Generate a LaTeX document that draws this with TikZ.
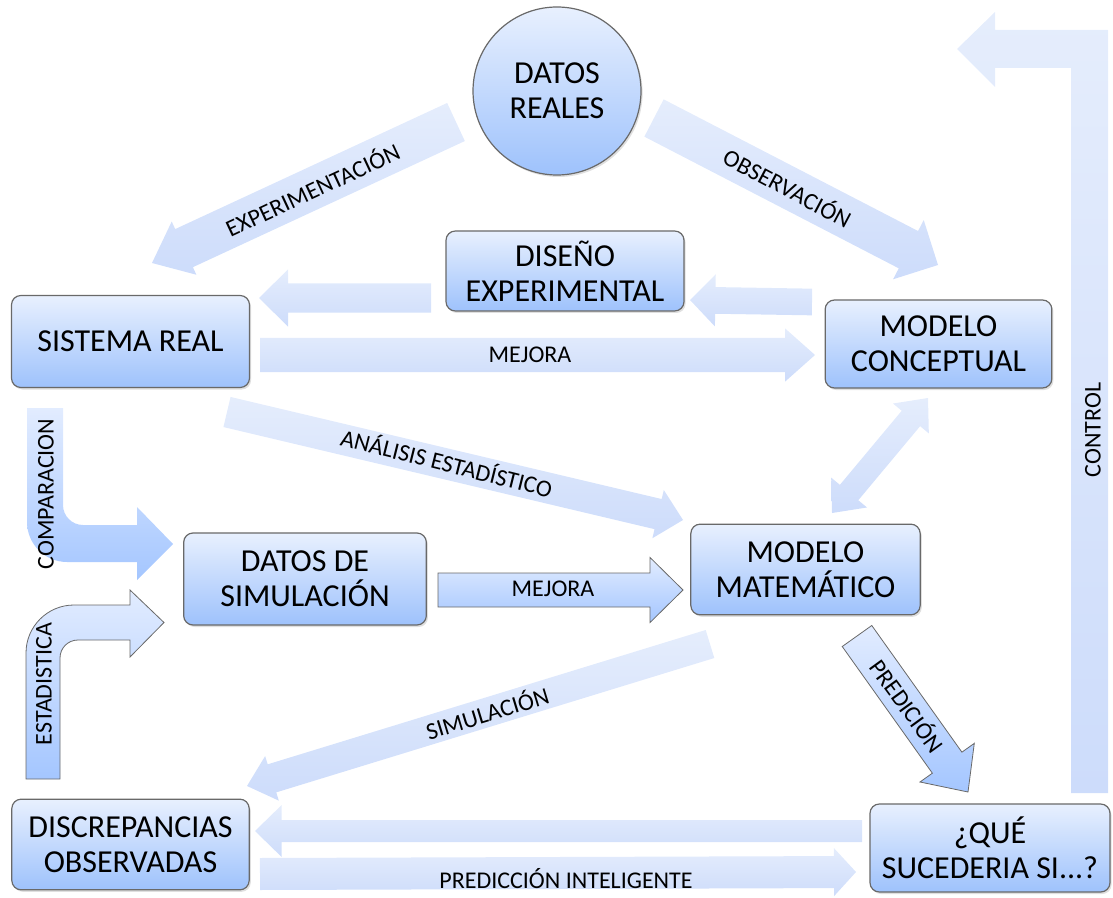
\documentclass[tikz,border=0pt]{standalone}
\usepackage{fontspec}
\setmainfont{Carlito}
\usetikzlibrary{calc,shadows}

\definecolor{boxtop}{RGB}{232,240,254}
\definecolor{boxbot}{RGB}{158,194,252}
\definecolor{boxline}{RGB}{105,105,105}
\definecolor{softtop}{RGB}{229,237,252}
\definecolor{softbot}{RGB}{205,220,251}
\definecolor{bluetop}{RGB}{226,236,255}
\definecolor{bluebot}{RGB}{164,198,255}

\tikzset{every picture/.style={line width=0.75pt}}
\tikzset{
	box/.style={draw=boxline, line width=0.9pt, rounded corners=7pt, top color=boxtop, bottom color=boxbot, align=center, inner sep=0pt, font=\fontsize{24}{26}\selectfont, drop shadow={opacity=0.25, shadow xshift=1.2pt, shadow yshift=-1.5pt}},
	softarrow/.style={top color=softtop, bottom color=softbot},
	bluearrow/.style={top color=bluetop, bottom color=bluebot},
	outlined/.style={draw=boxline, line width=0.6pt},
	lbl/.style={inner sep=0pt, font=\fontsize{18}{20}\selectfont}
}

% block arrow: [style]{tail}{tip}{half shaft}{half head}{head length}
\newcommand{\blockarrow}[6][softarrow]{%
	\coordinate (bahead) at ($(#3)!#6!(#2)$);
	\path[#1] ($(#2)!#4!90:(#3)$) -- ($(bahead)!#4!90:(#3)$) -- ($(bahead)!#5!90:(#3)$) -- (#3) -- ($(bahead)!#5!-90:(#3)$) -- ($(bahead)!#4!-90:(#3)$) -- ($(#2)!#4!-90:(#3)$) -- cycle;
}
% double block arrow: [style]{end a}{end b}{half shaft}{half head}{head length}
\newcommand{\twinarrow}[6][softarrow]{%
	\coordinate (taheada) at ($(#2)!#6!(#3)$);
	\coordinate (taheadb) at ($(#3)!#6!(#2)$);
	\path[#1] (#2) -- ($(taheada)!#5!90:(#3)$) -- ($(taheada)!#4!90:(#3)$) -- ($(taheadb)!#4!90:(#3)$) -- ($(taheadb)!#5!90:(#3)$) -- (#3) -- ($(taheadb)!#5!-90:(#3)$) -- ($(taheadb)!#4!-90:(#3)$) -- ($(taheada)!#4!-90:(#3)$) -- ($(taheada)!#5!-90:(#3)$) -- cycle;
}

\begin{document}
\begin{tikzpicture}[x=0.75pt,y=0.75pt,yscale=-1,xscale=1]
	\useasboundingbox (0,0) rectangle (1113,898);

	%Arrow ends
	\coordinate (expT) at (456,122);   \coordinate (expH) at (152,263);
	\coordinate (obsT) at (654,118);   \coordinate (obsH) at (938,265);
	\coordinate (disT) at (431,298);   \coordinate (disH) at (259,298);
	\coordinate (conT) at (812,302);   \coordinate (conH) at (690,300);
	\coordinate (mejT) at (260,355);   \coordinate (mejH) at (815,355);
	\coordinate (anaT) at (227,412);   \coordinate (anaH) at (683,520);
	\coordinate (dblA) at (928,398);   \coordinate (dblB) at (832,513);
	\coordinate (simdT) at (438,590);  \coordinate (simdH) at (683,590);
	\coordinate (simT) at (710,644);   \coordinate (simH) at (247,786);
	\coordinate (preT) at (857,636);   \coordinate (preH) at (968,792);
	\coordinate (queT) at (862,831);   \coordinate (queH) at (255,831);
	\coordinate (intT) at (260,874);   \coordinate (intH) at (856,872);

	%Shape: Block Arrows
	\blockarrow{expT}{expH}{15.75pt}{22pt}{26.5pt}
	\blockarrow{obsT}{obsH}{15.75pt}{25pt}{25pt}
	\blockarrow{disT}{disH}{10.9pt}{21.4pt}{21.75pt}
	\blockarrow{conT}{conH}{10pt}{19.5pt}{19pt}
	\blockarrow{mejT}{mejH}{12.75pt}{20pt}{22.5pt}
	\blockarrow{anaT}{anaH}{11.6pt}{18.6pt}{19.2pt}
	\twinarrow{dblA}{dblB}{9pt}{17.5pt}{20pt}
	\blockarrow[bluearrow,outlined]{simdT}{simdH}{12.75pt}{24.4pt}{24.75pt}
	\blockarrow{simT}{simH}{11pt}{17.5pt}{19.6pt}
	\blockarrow[bluearrow,outlined]{preT}{preH}{13.6pt}{25pt}{27pt}
	\blockarrow{queT}{queH}{8.25pt}{19.5pt}{20pt}
	\blockarrow{intT}{intH}{12pt}{18pt}{16.5pt}

	%Shape: Bent Arrow [control]
	\path[softarrow] (1071,793) -- (1108,793) -- (1108,30) -- (995,30) -- (995,12) -- (957,49) -- (995,87) -- (995,68) -- (1071,68) -- cycle;
	%Shape: Bent Arrow [comparacion]
	\path[bluearrow] (27,408) -- (27,522) .. controls (27,544) and (45,562) .. (67,562) -- (137,562) -- (137,580) -- (173,544) -- (137,507) -- (137,525) -- (83,525) .. controls (72,525) and (63,516) .. (63,505) -- (63,408) -- cycle;
	%Shape: Bent Arrow [estadistica]
	\path[bluearrow,outlined] (26,779) -- (26,653) .. controls (26,626.5) and (47.5,605) .. (74,605) -- (130,605) -- (130,590) -- (164,622.5) -- (130,657) -- (130,640) -- (78,640) .. controls (68,640) and (60,648) .. (60,658) -- (60,779) -- cycle;

	%Shape: Circle
	\node[box, circle, minimum size=126pt] (reales) at (557,91) {DATOS\\REALES};
	%Shape: Rounded Rectangles
	\node[box, minimum width=178.5pt, minimum height=60pt] (diseno) at (565,271) {DISEÑO\\EXPERIMENTAL};
	\node[box, minimum width=178.5pt, minimum height=69pt] (sistema) at (130.5,341.5) {SISTEMA REAL};
	\node[box, minimum width=170pt, minimum height=66pt] (conceptual) at (938.5,344) {MODELO\\CONCEPTUAL};
	\node[box, minimum width=182pt, minimum height=69pt] (datossim) at (305,579) {DATOS DE\\SIMULACIÓN};
	\node[box, minimum width=172pt, minimum height=68pt] (matematico) at (805.5,569.5) {MODELO\\MATEMÁTICO};
	\node[box, minimum width=178pt, minimum height=68pt] (discrep) at (130.5,844.5) {DISCREPANCIAS\\OBSERVADAS};
	\node[box, minimum width=180pt, minimum height=66pt] (quesi) at (990,848) {¿QUÉ\\SUCEDERIA SI...?};

	% Text Node
	\node[lbl, rotate=25] (lexp) at (312,189) {EXPERIMENTACIÓN};
	% Text Node
	\node[lbl, rotate=-28] (lobs) at (788,187) {OBSERVACIÓN};
	% Text Node
	\node[lbl] (lmejora) at (530,355) {MEJORA};
	% Text Node
	\node[lbl, rotate=-14] (lanalisis) at (447,462) {ANÁLISIS ESTADÍSTICO};
	% Text Node
	\node[lbl] (lmejorasim) at (553,589) {MEJORA};
	% Text Node
	\node[lbl, rotate=17] (lsim) at (487,712) {SIMULACIÓN};
	% Text Node
	\node[lbl, rotate=-54] (lpred) at (908,705) {PREDICIÓN};
	% Text Node
	\node[lbl] (lintel) at (566,879) {PREDICCIÓN INTELIGENTE};
	% Text Node
	\node[lbl, rotate=90] (lcontrol) at (1093,430) {CONTROL};
	% Text Node
	\node[lbl, rotate=90] (lcomp) at (46,494) {COMPARACION};
	% Text Node
	\node[lbl, rotate=90] (lestad) at (44,684) {ESTADISTICA};

\end{tikzpicture}
\end{document}
